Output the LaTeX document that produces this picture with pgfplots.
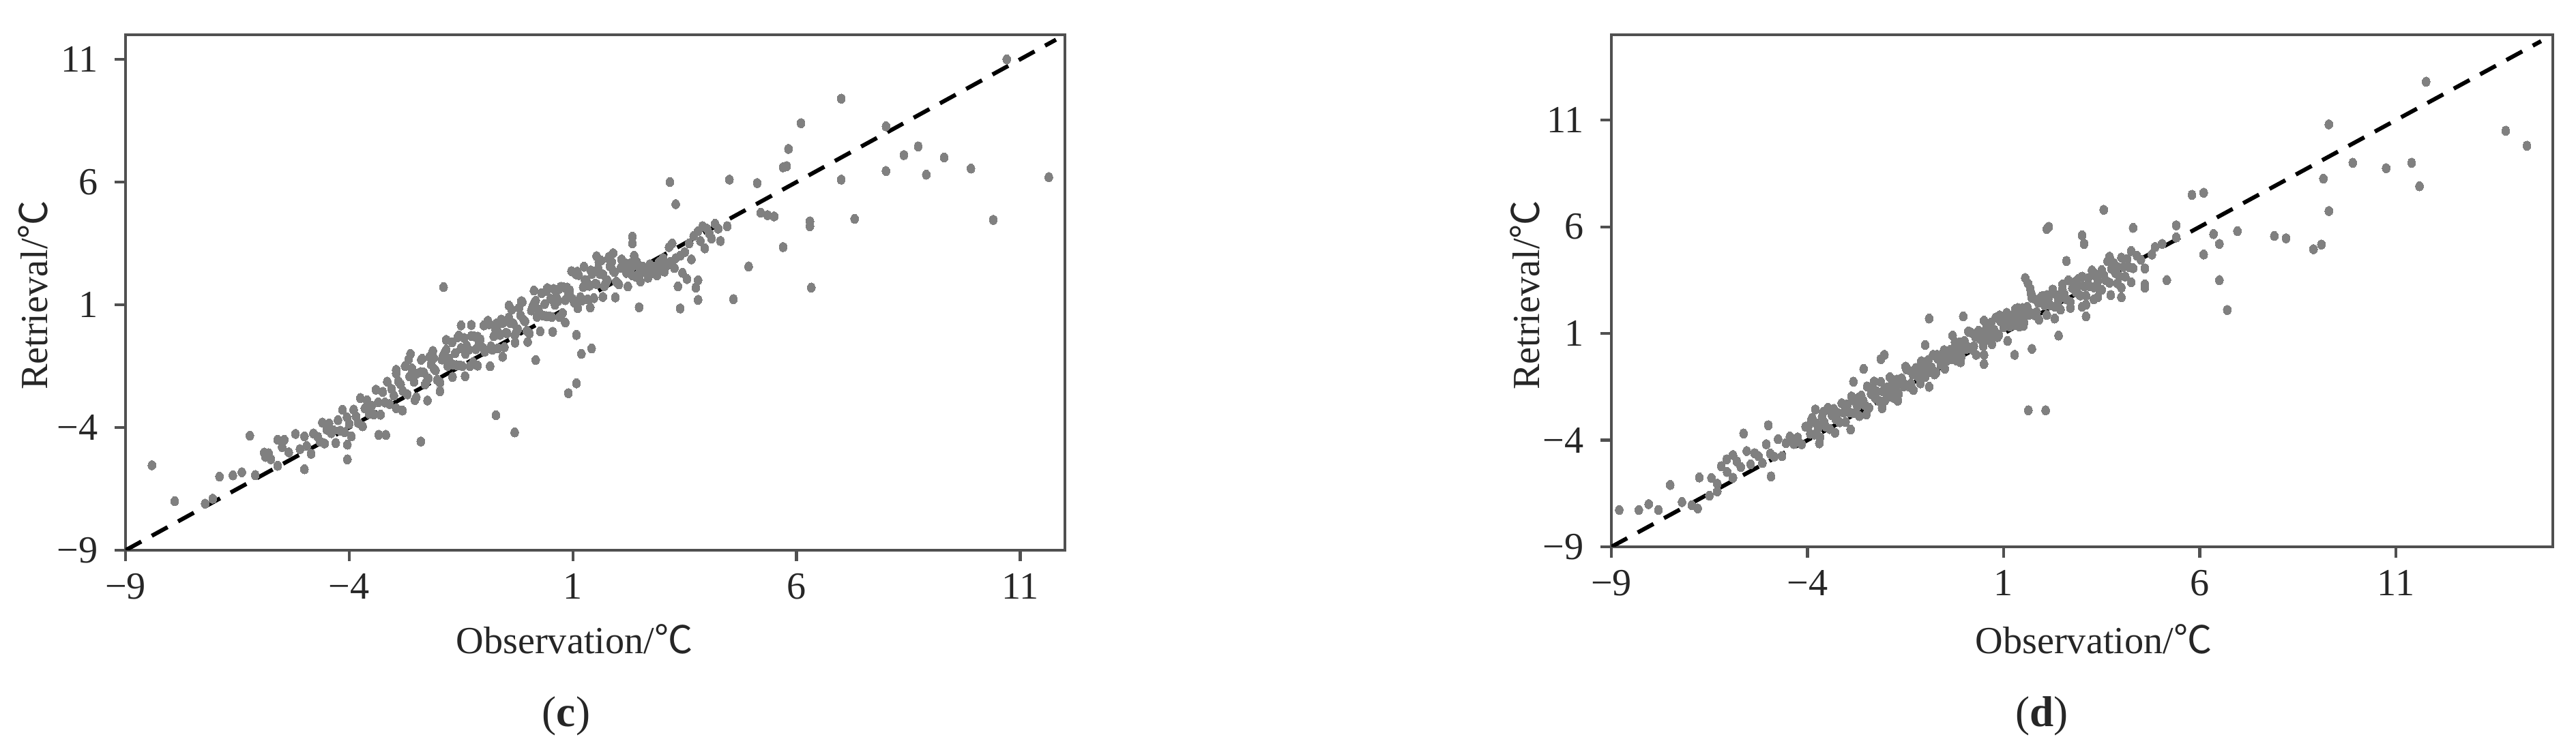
\documentclass[border=0pt]{standalone}
\usepackage{pgfplots}
\pgfplotsset{compat=1.18}
\usepackage{fontspec}
\setmainfont{Liberation Serif}
\newfontfamily\cjk{Noto Sans CJK SC}

\definecolor{axgray}{RGB}{80,80,80}
\definecolor{ptgray}{RGB}{128,128,128}
\newcommand{\degC}{{\cjk ℃}}
\newcommand{\lblfont}{\fontsize{16}{19}\selectfont}

\pgfplotsset{
  panel/.style={
    scale only axis,
    anchor=south west,
    axis line style={axgray, line width=1.2pt},
    tick style={axgray, line width=1.2pt},
    major tick length=0.16cm,
    tick align=outside,
    tick pos=left,
    ticklabel style={font=\lblfont, text=black!85},
    xticklabel style={yshift=-0.06cm},
    yticklabel style={xshift=-0.12cm},
    xtick={-9,-4,1,6,11}, ytick={-9,-4,1,6,11},
    xticklabels={−9,−4,1,6,11}, yticklabels={−9,−4,1,6,11},
  },
  pts/.style={only marks, color=ptgray, mark=*, mark size=1.95pt,
    mark options={draw=ptgray, fill=ptgray, line width=0pt, xscale=0.85}},
  diag/.style={black, line width=1.7pt, dash pattern=on 7.5pt off 5pt},
}

\begin{document}
\begin{tikzpicture}
\path[use as bounding box] (0,0) rectangle (37.76,11);

% (c)
\begin{axis}[panel, at={(1.84cm,2.93cm)}, width=13.77cm, height=7.56cm,
  xmin=-9, xmax=12, ymin=-9, ymax=12]
\addplot[pts] coordinates {
(-6.4,-5.82) (-6.1,-5.94) (-5.9,-5.02) (-5.75,-5.29) (-5.6,-5.56) (-5.5,-4.8) (-5.35,-5.01) (-5.2,-4.26) (-5.1,-4.88) (-5.0,-4.36)
(-4.95,-4.75) (-4.85,-5.07) (-4.8,-4.24) (-4.7,-4.38) (-4.65,-4.57) (-4.6,-3.8) (-4.55,-4.65) (-4.5,-4.09) (-4.45,-3.83) (-4.4,-4.23)
(-4.35,-4.12) (-4.3,-4.63) (-4.25,-3.7) (-4.2,-4.13) (-4.15,-3.28) (-4.1,-4.19) (-4.05,-3.58) (-4.0,-3.85) (-3.95,-4.36) (-3.9,-3.27)
(-3.85,-3.54) (-3.8,-3.81) (-3.75,-2.8) (-3.7,-3.95) (-3.65,-3.22) (-3.6,-2.89) (-3.55,-3.44) (-3.5,-3.11) (-3.45,-3.47) (-3.4,-2.46)
(-3.35,-2.97) (-3.3,-3.48) (-3.25,-2.55) (-3.2,-2.98) (-3.15,-2.13) (-3.1,-3.04) (-3.05,-2.43) (-3.0,-2.7) (-2.95,-3.21) (-2.9,-2.12)
(-2.85,-2.24) (-2.8,-2.51) (-2.75,-1.5) (-2.7,-2.65) (-2.65,-1.92) (-2.6,-1.59) (-2.55,-2.14) (-2.5,-1.81)
(-2.4,-1.74) (-2.3,-2.24) (-2.2,-1.12) (-2.1,-1.61) (-2.0,-2.11) (-1.9,-1.07) (-1.8,-1.49) (-1.7,-0.53) (-1.6,-1.46) (-1.5,-0.76)
(-1.4,-1.0) (-1.3,-1.5) (-1.2,-0.29) (-1.1,-0.53) (-1.0,-0.77) (-0.9,0.35) (-0.8,-0.83) (-0.7,0.0) (-0.6,0.4) (-0.5,-0.14)
(-0.4,0.26) (-0.3,-0.24) (-0.2,0.88) (-0.1,0.39) (0.0,-0.11) (0.1,0.93) (0.2,0.51) (0.3,1.47) (0.4,0.54) (0.5,1.24)
(0.6,1.0) (0.7,0.5) (0.8,1.71) (0.9,1.47) (1.0,1.23) (1.1,2.35) (1.2,1.17) (1.3,2.0) (1.4,2.4) (1.5,1.86)
(1.6,2.26) (1.7,1.76) (1.8,2.88) (1.9,2.39) (2.0,1.89) (2.1,2.55) (2.2,2.3) (2.3,2.7) (2.4,2.15) (2.5,2.45)
(-2.37,-1.2) (-2.27,-2.13) (-2.17,-1.43) (-2.07,-1.67) (-1.97,-2.17) (-1.87,-0.96) (-1.77,-1.2) (-1.67,-1.44) (-1.57,-0.32) (-1.47,-1.5)
(-1.37,-0.67) (-1.27,-0.27) (-1.17,-0.81) (-1.07,-0.41) (-0.97,-0.91) (-0.87,0.21) (-0.77,-0.28) (-0.67,-0.78) (-0.57,0.26) (-0.47,-0.16)
(-0.37,0.8) (-0.27,-0.13) (-0.17,0.57) (-0.07,0.33) (0.03,-0.17) (0.13,1.04) (0.23,0.8) (0.33,0.56) (0.43,1.68) (0.53,0.5)
(0.63,1.33) (0.73,1.73) (0.83,1.19) (0.93,1.59) (1.03,1.09) (1.13,2.21) (1.23,1.72) (1.33,1.22) (1.43,2.26) (1.53,1.84)
(1.63,2.8) (1.73,1.87) (1.83,2.57) (1.93,2.33) (2.03,1.83) (2.13,2.65) (2.23,2.45) (2.33,2.2) (2.43,2.75) (2.53,2.3)
(-2.33,-1.76) (-2.23,-2.0) (-2.13,-0.88) (-2.03,-2.06) (-1.93,-1.23) (-1.83,-0.83) (-1.73,-1.37) (-1.63,-0.97) (-1.53,-1.47) (-1.43,-0.35)
(-1.33,-0.84) (-1.23,-1.34) (-1.13,-0.3) (-1.03,-0.72) (-0.93,0.24) (-0.83,-0.69) (-0.73,0.01) (-0.63,-0.23) (-0.53,-0.73) (-0.43,0.48)
(-0.33,0.24) (-0.23,0.0) (-0.13,1.12) (-0.03,-0.06) (0.07,0.77) (0.17,1.17) (0.27,0.63) (0.37,1.03) (0.47,0.53) (0.57,1.65)
(0.67,1.16) (0.77,0.66) (0.87,1.7) (0.97,1.28) (1.07,2.24) (1.17,1.31) (1.27,2.01) (1.37,1.77) (1.47,1.27) (1.57,2.48)
(1.67,2.24) (1.77,2.0) (1.87,2.75) (1.97,1.94) (2.07,2.5) (2.17,2.7) (2.27,2.35) (2.37,2.6) (2.47,2.25) (2.57,2.55)
(-2.95,-1.65) (-2.81,-3.31) (-2.67,-1.22) (-2.53,-2.88) (-2.39,-1.24) (-2.25,-2.9) (-2.11,-1.16) (-1.97,-2.52) (-1.83,-0.43) (-1.69,-1.94)
(-1.55,-0.25) (-1.41,-1.91) (-1.27,0.18) (-1.13,-1.48) (-0.99,0.16) (-0.85,-1.5) (-0.71,0.24) (-0.57,-1.12) (-0.43,0.97) (-0.29,-0.54)
(-0.15,1.15) (-0.01,-0.51) (0.13,1.58) (0.27,-0.08) (0.41,1.56) (0.55,-0.1) (0.69,1.64) (0.83,0.28) (0.97,2.37) (1.11,0.86)
(1.25,2.55) (1.39,0.89) (1.53,2.98) (1.67,1.32) (1.81,2.96) (1.95,1.3) (2.09,2.85) (2.23,1.75) (2.37,3.0) (2.51,1.95)
(2.62,2.4) (2.68,2.1) (2.72,2.65) (2.78,2.3) (2.83,2.55) (2.88,2.2) (2.93,2.75) (2.97,2.45) (3.02,2.9) (3.05,2.35)
(3.1,2.6) (3.15,3.35) (3.18,2.75) (3.22,3.5) (3.27,2.5) (3.3,2.9) (3.35,1.75) (3.4,3.0) (3.45,2.3) (3.5,3.15)
(3.55,2.05) (3.6,3.5) (3.65,2.85) (3.7,3.8) (3.75,1.7) (3.8,4.0) (3.85,3.6) (3.9,4.2) (3.95,3.3) (4.0,4.1)
(4.05,3.9) (4.1,3.7) (4.18,4.3) (4.25,4.1) (4.3,3.6) (4.45,4.2)
(-8.41,-5.54) (-7.9,-7.0) (-7.22,-7.1) (-7.05,-6.9) (-6.9,-6.0) (-6.6,-5.95) (-6.22,-4.33) (-5.87,-5.2) (-5.8,-5.05) (-5.6,-4.5)
(-5.45,-4.5) (-5.0,-5.7) (-4.04,-5.3) (-4.04,-4.7) (-3.34,-4.3) (-3.18,-4.3) (-2.95,-1.8) (-2.63,-1.0) (-2.5,-2.77) (-2.4,-4.57)
(-1.89,1.72) (-1.5,0.16) (-0.72,-3.5) (-0.3,-4.2) (0.17,-1.25) (0.9,-2.6) (1.08,-2.2) (1.08,-0.23) (1.19,-1.0) (1.42,-0.78)
(1.58,2.74) (1.9,3.1) (2.33,3.5) (2.33,3.77) (2.48,0.9) (3.17,6.0) (3.3,5.1) (3.4,0.85) (3.8,1.2) (3.8,2.0)
(4.5,6.1) (4.59,1.23) (4.93,2.56) (5.12,5.96) (5.2,4.75) (5.35,4.65) (5.5,4.6) (5.7,3.35) (5.7,6.6) (5.78,6.65)
(5.82,7.35) (6.1,8.4) (6.3,4.2) (6.3,4.4) (6.33,1.7) (7.0,9.4) (7.0,6.1) (7.3,4.5) (8.0,8.27) (8.0,6.45)
(8.4,7.1) (8.72,7.45) (8.9,6.3) (9.3,7.0) (9.9,6.55) (10.4,4.46) (10.7,11.0) (11.64,6.2)
};
\addplot[diag] coordinates {(-9,-9) (11.8,11.8)};
\end{axis}

% (d)
\begin{axis}[panel, at={(23.62cm,2.98cm)}, width=13.80cm, height=7.51cm,
  xmin=-9, xmax=15, ymin=-9, ymax=15]
\addplot[pts] coordinates {
(-6.45,-5.77) (-6.3,-6.04) (-6.2,-5.22) (-6.05,-5.49) (-5.9,-5.76) (-5.8,-5.0) (-5.7,-5.26) (-5.55,-4.51) (-5.45,-5.13) (-5.35,-4.61)
(-5.25,-4.75) (-5.15,-5.07) (-5.05,-4.19) (-4.95,-4.63) (-4.85,-4.77) (-4.75,-3.95) (-4.65,-4.75) (-4.55,-4.14) (-4.45,-3.83) (-4.35,-4.18)
(-4.25,-3.87) (-4.15,-4.19) (-4.05,-3.37)
(-3.98,-3.33) (-3.93,-3.7) (-3.88,-2.95) (-3.83,-3.74) (-3.78,-3.2) (-3.73,-3.43) (-3.68,-3.87) (-3.63,-2.91) (-3.58,-3.14) (-3.53,-3.37)
(-3.48,-2.48) (-3.43,-3.48) (-3.38,-2.83) (-3.33,-2.54) (-3.28,-3.02) (-3.23,-2.72) (-3.18,-3.16) (-3.13,-2.27) (-3.08,-2.71) (-3.03,-3.15)
(-2.98,-2.33) (-2.93,-2.7) (-2.88,-1.95) (-2.83,-2.74) (-2.78,-2.2) (-2.73,-2.43) (-2.68,-2.87) (-2.63,-1.91) (-2.58,-2.14) (-2.53,-2.37)
(-2.48,-1.48) (-2.43,-2.48) (-2.38,-1.83) (-2.33,-1.54) (-2.28,-2.02) (-2.23,-1.72) (-2.18,-2.16) (-2.13,-1.27) (-2.08,-1.71) (-2.03,-2.15)
(-2.0,-1.62) (-1.92,-1.96) (-1.84,-1.16) (-1.76,-1.5) (-1.68,-1.84) (-1.6,-1.1) (-1.52,-1.38) (-1.44,-0.7) (-1.36,-1.34) (-1.28,-0.84)
(-1.2,-1.0) (-1.12,-1.34) (-1.04,-0.48) (-0.96,-0.64) (-0.88,-0.8) (-0.8,0.0) (-0.72,-0.82) (-0.64,-0.23) (-0.56,0.06) (-0.48,-0.16)
(-0.4,0.13) (-0.32,-0.21) (-0.24,0.59) (-0.16,0.25) (-0.08,-0.09) (0.0,0.65) (0.08,0.37) (0.16,1.05) (0.24,0.41) (0.32,0.91)
(0.4,0.75) (0.48,0.41) (0.56,1.27) (0.64,1.11) (0.72,0.95) (0.8,1.75) (0.88,0.93) (0.96,1.52) (1.04,1.81) (1.12,1.44)
(1.2,1.73) (1.28,1.39) (1.36,2.19) (1.44,1.85) (1.52,1.51) (1.6,2.25) (1.68,1.97) (1.76,2.65) (1.84,2.01) (1.92,2.51)
(-1.96,-1.52) (-1.88,-1.68) (-1.8,-2.02) (-1.72,-1.16) (-1.64,-1.32) (-1.56,-1.48) (-1.48,-0.68) (-1.4,-1.5) (-1.32,-0.91) (-1.24,-0.62)
(-1.16,-0.99) (-1.08,-0.7) (-1.0,-1.04) (-0.92,-0.24) (-0.84,-0.58) (-0.76,-0.92) (-0.68,-0.18) (-0.6,-0.46) (-0.52,0.22) (-0.44,-0.27)
(-0.36,0.23) (-0.28,0.07) (-0.2,-0.27) (-0.12,0.59) (-0.04,0.43) (0.04,0.27) (0.12,1.07) (0.2,0.25) (0.28,0.84) (0.36,1.13)
(0.44,0.76) (0.52,1.05) (0.6,0.71) (0.68,1.51) (0.76,1.17) (0.84,0.83) (0.92,1.57) (1.0,1.29) (1.08,1.97) (1.16,1.33)
(1.24,1.83) (1.32,1.67) (1.4,1.33) (1.48,2.19) (1.56,2.03) (1.64,1.87) (1.72,2.67) (1.8,1.85) (1.88,2.44) (1.96,2.73)
(-3.9,-3.05) (-3.7,-4.15) (-3.5,-2.55) (-3.3,-3.65) (-3.1,-2.3) (-2.9,-3.5) (-2.7,-2.0) (-2.5,-2.8) (-2.3,-1.25) (-2.1,-2.5)
(-1.9,-1.05) (-1.7,-2.15) (-1.5,-0.55) (-1.3,-1.65) (-1.1,-0.3) (-0.9,-1.5) (-0.7,0.0) (-0.5,-0.65) (-0.3,0.9) (-0.1,-0.35)
(0.1,1.1) (0.3,0.0) (0.5,1.6) (0.7,0.5) (0.9,1.85) (1.1,0.65) (1.3,2.15) (1.5,1.35) (1.7,2.9) (1.9,1.65)
(2.1,2.8) (2.3,1.7) (2.5,3.3) (2.7,2.2) (2.9,3.55) (3.1,2.35) (3.3,3.85) (3.5,3.05) (3.7,4.6) (3.9,3.35)
(2.0,2.76) (2.05,2.32) (2.1,1.87) (2.15,2.69) (2.2,2.31) (2.25,3.06) (2.3,2.26) (2.35,2.8) (2.4,2.56) (2.45,2.12)
(2.5,3.07) (2.55,2.84) (2.6,2.6) (2.65,3.49) (2.7,2.48) (2.75,3.13) (2.8,3.41) (2.85,2.93) (2.9,3.22) (2.95,2.78)
(3.0,3.66) (3.05,3.22) (3.1,2.77) (3.15,3.59) (3.2,3.21) (3.25,3.96) (3.3,3.16) (3.35,3.7) (3.4,3.46) (3.45,3.02)
(3.5,3.97) (3.55,3.74) (3.6,3.5) (3.65,4.39) (3.7,3.38) (3.75,4.03) (3.8,4.31) (3.85,3.83) (3.9,4.12) (3.95,3.68)
(4.0,4.56) (4.05,4.12) (4.1,3.67) (4.15,4.49) (4.2,4.11) (4.25,4.86) (4.3,4.06) (4.4,4.64) (4.5,4.45) (4.6,4.05)
(-8.8,-7.27) (-8.3,-7.27) (-8.05,-7.0) (-7.8,-7.27) (-7.5,-6.1) (-7.2,-6.9) (-6.95,-7.05) (-6.76,-5.75) (-6.8,-7.2) (-6.5,-6.6)
(-6.3,-6.4) (-6.06,-4.9) (-5.9,-4.7) (-5.63,-3.69) (-5.0,-3.3) (-4.93,-5.7) (-3.8,-2.56) (-3.6,-2.68) (-2.83,-1.26) (-2.57,-0.66)
(-2.13,-0.2) (-2.04,0.0) (-1.0,0.46) (-0.9,1.7) (-0.03,1.8) (0.5,0.0) (0.5,-0.43) (1.28,0.0) (1.55,3.6) (1.62,3.35)
(1.63,-2.6) (1.68,3.1) (1.7,2.85) (1.72,0.28) (2.07,-2.6) (2.1,5.9) (2.15,6.0) (2.4,0.9) (2.6,4.4) (3.0,5.6)
(3.05,5.2) (3.0,2.25) (3.1,1.8) (3.3,2.6) (3.4,2.7) (3.55,6.8) (3.73,2.8) (4.0,2.7) (4.0,3.15) (4.25,3.4)
(4.3,5.95) (4.6,3.3) (4.6,3.15) (4.78,4.7) (4.86,5.05) (5.04,5.2) (5.16,3.5) (5.4,5.5) (5.4,6.07) (5.8,7.5)
(6.1,7.6) (6.1,4.7) (6.35,5.66) (6.5,5.2) (6.5,3.5) (6.7,2.1) (6.96,5.8) (7.9,5.57) (8.2,5.46) (8.9,4.95)
(9.1,5.17) (9.15,8.26) (9.29,10.8) (9.29,6.74) (9.9,9.0) (10.75,8.75) (11.4,9.0) (11.6,7.9) (11.77,12.8) (13.8,10.5)
(14.34,9.8)
};
\addplot[diag] coordinates {(-9,-9) (14.7,14.7)};
\end{axis}

\begin{scope}[every node/.style={font=\lblfont, text=black!85}]
\node[rotate=90] at (0.48,6.67) {Retrieval/\degC};
\node at (8.42,1.63) {Observation/\degC};
\node[font=\fontsize{18}{21}\selectfont] at (8.3,0.5) {(\textbf{c})};
\node[rotate=90] at (22.35,6.67) {Retrieval/\degC};
\node at (30.69,1.63) {Observation/\degC};
\node[font=\fontsize{18}{21}\selectfont] at (29.93,0.5) {(\textbf{d})};
\end{scope}
\end{tikzpicture}
\end{document}
